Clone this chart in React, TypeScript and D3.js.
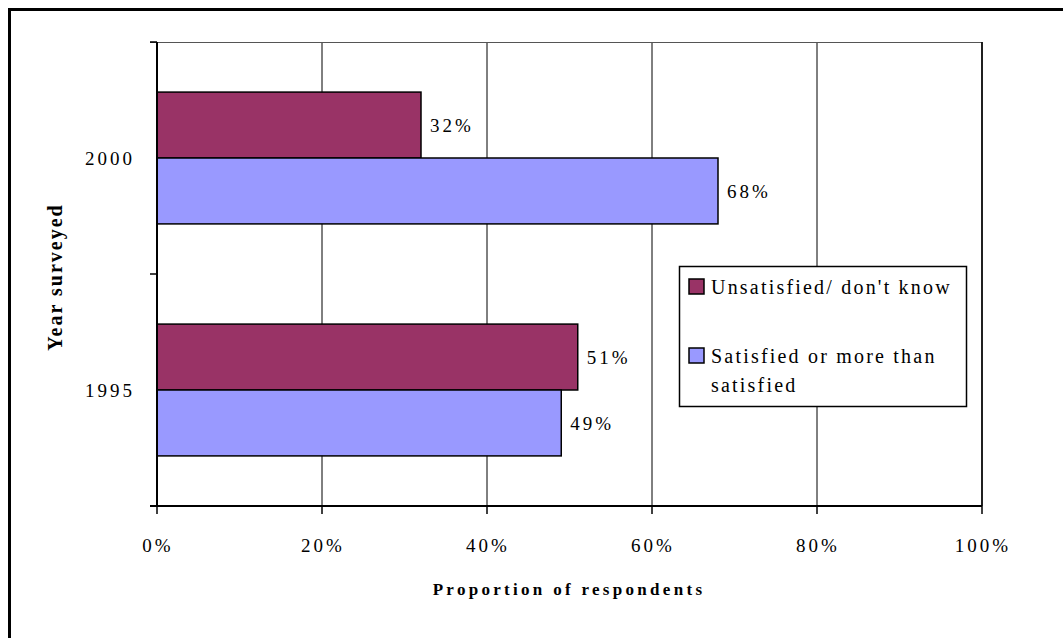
import React from "react";
import * as d3 from "d3";

const years = ["2000", "1995"];
const seriesNames = ["Unsatisfied/ don't know", "Satisfied or more than satisfied"];
const unsatisfied = [32, 51];
const satisfied = [68, 49];
const xTicks = [0, 20, 40, 60, 80, 100];
const colors = ["#993366", "#9999FF"];

const W = 1063, H = 638;
const left = 157, right = 982, top = 42, bottom = 506;
const FONT = "'Liberation Serif', 'Times New Roman', serif";

export default function App() {
  const x = d3.scaleLinear().domain([0, 100]).range([left, right]);
  const y = d3.scaleBand().domain(years).range([top, bottom]).paddingInner(0).paddingOuter(0);
  const inner = d3.scaleBand().domain(["u", "s"]).range([0, y.bandwidth()]).paddingOuter(0.76).paddingInner(0);
  const series = [unsatisfied, satisfied];
  const keys = ["u", "s"];
  const boundaries = [top, ...years.map((yr) => (y(yr) as number) + y.bandwidth())];

  return (
    <svg width={W} height={H} style={{ position: "absolute", left: 0, top: 0 }} fontFamily={FONT}>
      <rect x={0} y={0} width={W} height={H} fill="#fff" />
      <rect x={9.5} y={9.5} width={1200} height={800} fill="none" stroke="#000" strokeWidth={3} />
      {/* gridlines */}
      {xTicks.slice(1).map((t) => (
        <line key={t} x1={x(t)} x2={x(t)} y1={top} y2={bottom} stroke="#000" strokeWidth={1} />
      ))}
      <line x1={left - 7} x2={right} y1={top + 0.5} y2={top + 0.5} stroke="#555" strokeWidth={1} />
      <line x1={right} x2={right} y1={top} y2={bottom} stroke="#000" strokeWidth={1.5} />
      {/* bars */}
      {years.map((yr, i) =>
        series.map((s, j) => (
          <rect
            key={yr + j}
            x={x(0)}
            y={(y(yr) as number) + (inner(keys[j]) as number)}
            width={x(s[i]) - x(0)}
            height={inner.bandwidth()}
            fill={colors[j]}
            stroke="#000"
            strokeWidth={1.5}
          />
        ))
      )}
      {/* value labels */}
      {years.map((yr, i) =>
        series.map((s, j) => (
          <text
            key={"l" + yr + j}
            x={x(s[i]) + 9}
            y={(y(yr) as number) + (inner(keys[j]) as number) + inner.bandwidth() / 2}
            dy="0.35em"
            fontSize={19}
            letterSpacing={3}
            fill="#000"
          >
            {s[i]}%
          </text>
        ))
      )}
      {/* y axis */}
      <line x1={left} x2={left} y1={top} y2={bottom} stroke="#000" strokeWidth={2} />
      {boundaries.map((b, i) => (
        <line key={"yt" + i} x1={left - 7} x2={left} y1={b} y2={b} stroke="#000" strokeWidth={1.5} />
      ))}
      {years.map((yr) => (
        <text
          key={"yl" + yr}
          x={left - 22}
          y={(y(yr) as number) + y.bandwidth() / 2}
          dy="0.35em"
          textAnchor="end"
          fontSize={19}
          letterSpacing={3}
        >
          {yr}
        </text>
      ))}
      {/* x axis */}
      <line x1={left - 7} x2={right} y1={bottom} y2={bottom} stroke="#000" strokeWidth={2} />
      {xTicks.map((t) => (
        <line key={"xt" + t} x1={x(t)} x2={x(t)} y1={bottom} y2={bottom + 8} stroke="#000" strokeWidth={1.5} />
      ))}
      {xTicks.map((t) => (
        <text key={"xl" + t} x={x(t) + 1} y={552} textAnchor="middle" fontSize={19} letterSpacing={3}>
          {t}%
        </text>
      ))}
      {/* axis titles */}
      <text x={569} y={595} textAnchor="middle" fontSize={17} fontWeight="bold" letterSpacing={3.3}>
        Proportion of respondents
      </text>
      <text
        transform={`translate(62,277) rotate(-90)`}
        textAnchor="middle"
        fontSize={20}
        fontWeight="bold"
        letterSpacing={2}
      >
        Year surveyed
      </text>
      {/* legend */}
      <rect x={679.5} y={266.5} width={287} height={140} fill="#fff" stroke="#000" strokeWidth={1.5} />
      {seriesNames.map((n, j) => (
        <rect key={"sw" + j} x={689} y={j === 0 ? 279 : 348} width={15} height={15} fill={colors[j]} stroke="#000" strokeWidth={1.5} />
      ))}
      <text x={711} y={294} fontSize={20} letterSpacing={2.2}>{seriesNames[0]}</text>
      <text x={711} y={363} fontSize={20} letterSpacing={2.2}>Satisfied or more than</text>
      <text x={711} y={392} fontSize={20} letterSpacing={2.2}>satisfied</text>
    </svg>
  );
}
